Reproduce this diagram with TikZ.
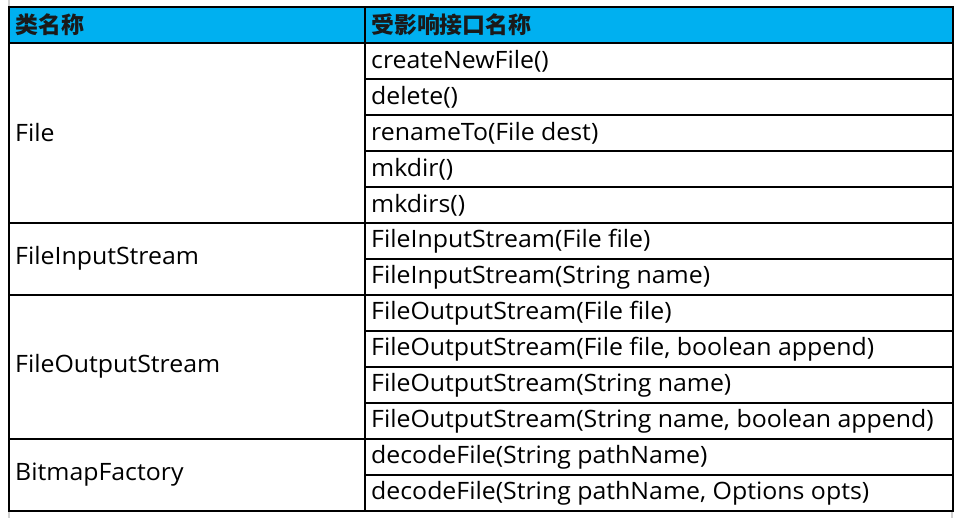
\documentclass[tikz,border=0pt]{standalone}
\usepackage{fontspec}
\setmainfont{Open Sans}[Ligatures=NoCommon,FakeStretch=1.04]
\newfontfamily\cjk{Noto Sans CJK SC}
\definecolor{hdr}{HTML}{00B0F0}
\definecolor{hdrtext}{HTML}{1A1A1A}
\definecolor{grid}{HTML}{D0D0D0}
\begin{document}
\begin{tikzpicture}[x=1bp,y=-1bp,
  cell/.style={anchor=west,inner sep=0pt,font=\fontsize{24}{28}\selectfont},
  head/.style={anchor=west,inner sep=0pt,font=\cjk\bfseries\fontsize{23}{27}\selectfont,text=hdrtext},
  rule/.style={line width=2bp,black}]
\useasboundingbox (0,0) rectangle (960,518);
\fill[white] (0,0) rectangle (960,518);
% faint sheet gridlines
\draw[grid,line width=1.5bp] (9,0) -- (9,7) (9,511) -- (9,518) (952,511) -- (952,518);
% header
\fill[hdr] (9,7) rectangle (953,43);
\node[head] (h1) at (15,25) {类名称};
\node[head] (h2) at (371,25) {受影响接口名称};
% right column cells
\foreach \t [count=\i] in {createNewFile(),delete(),renameTo(File dest),mkdir(),mkdirs(),FileInputStream(File file),FileInputStream(String name),FileOutputStream(File file),{FileOutputStream(File file, boolean append)},FileOutputStream(String name),{FileOutputStream(String name, boolean append)},decodeFile(String pathName),{decodeFile(String pathName, Options opts)}}
  \node[cell] (r\i) at (371,{43+36*(\i-1)+18}) {\t};
% left column cells
\node[cell] (c1) at (15,132.5) {File};
\node[cell] (c2) at (15,258) {FileInputStream};
\node[cell] (c3) at (15,366) {FileOutputStream};
\node[cell] (c4) at (15,474.5) {BitmapFactory};
% rules
\draw[rule] (9,7) rectangle (953,511);
\draw[rule] (365,7) -- (365,511);
\draw[rule] (9,43) -- (953,43);
\foreach \y in {79,115,151,187,259,331,367,403,475}
  \draw[rule] (365,\y) -- (953,\y);
\foreach \y in {223,295,439}
  \draw[rule] (9,\y) -- (953,\y);
\end{tikzpicture}
\end{document}
